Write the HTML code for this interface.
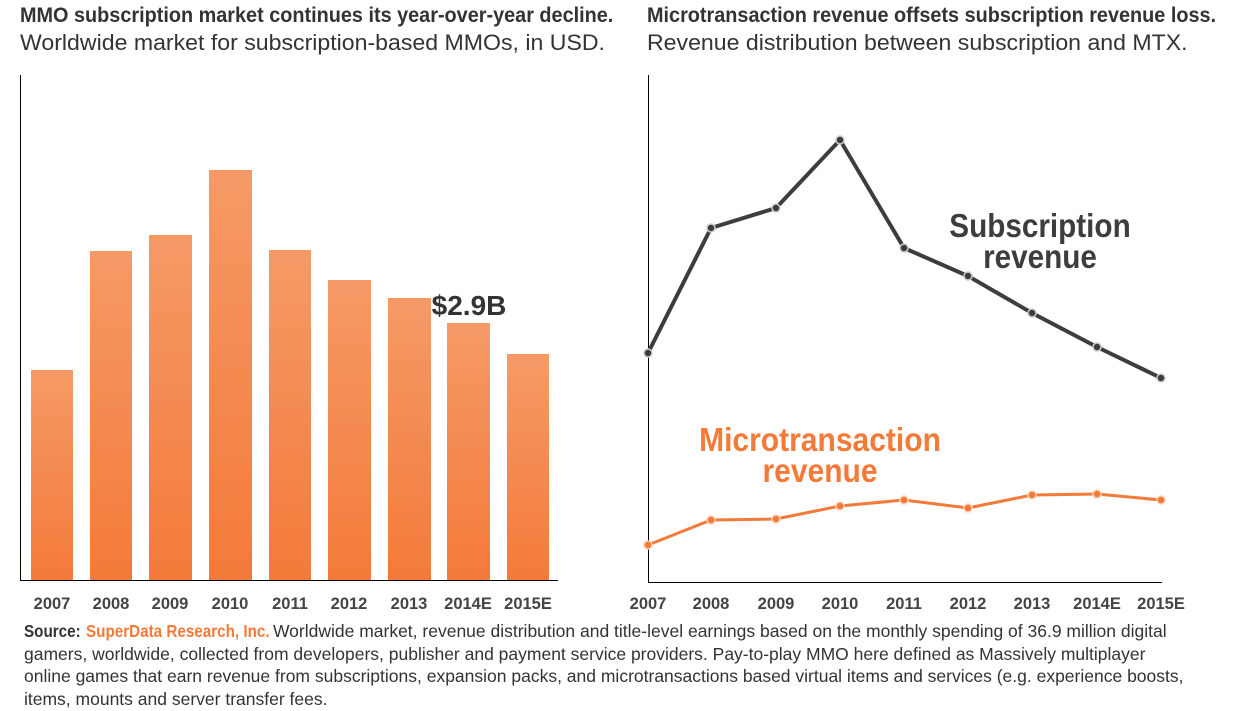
<!DOCTYPE html>
<html><head><style>
body{margin:0;background:#fff;width:1233px;height:710px;overflow:hidden;font-family:"Liberation Sans",sans-serif;}
.t{position:absolute;white-space:nowrap;}
</style></head><body>
<div class="t" style="left:20px;top:4px;font-size:21px;font-weight:bold;color:#333;transform:scaleX(0.945);transform-origin:left">MMO subscription market continues its year-over-year decline.</div>
<div class="t" style="left:20px;top:30px;font-size:22px;color:#333;transform:scaleX(1.05);transform-origin:left">Worldwide market for subscription-based MMOs, in USD.</div>
<div class="t" style="left:647px;top:4px;font-size:21px;font-weight:bold;color:#333;transform:scaleX(0.945);transform-origin:left">Microtransaction revenue offsets subscription revenue loss.</div>
<div class="t" style="left:647px;top:30px;font-size:22px;color:#333;transform:scaleX(1.05);transform-origin:left">Revenue distribution between subscription and MTX.</div>
<svg width="1233" height="710" style="position:absolute;left:0;top:0">
<defs><linearGradient id="g" x1="0" y1="0" x2="0" y2="1"><stop offset="0" stop-color="#f59a67"/><stop offset="1" stop-color="#f47a39"/></linearGradient></defs>
<g fill="url(#g)">
<rect x="31" y="370" width="42" height="210"/>
<rect x="90" y="251" width="42" height="329"/>
<rect x="149" y="235" width="43" height="345"/>
<rect x="209" y="170" width="43" height="410"/>
<rect x="269" y="250" width="42" height="330"/>
<rect x="328" y="280" width="43" height="300"/>
<rect x="388" y="298" width="43" height="282"/>
<rect x="447" y="323" width="43" height="257"/>
<rect x="507" y="354" width="42" height="226"/>
</g>
<path d="M20.5 75V580.5H558" stroke="#000" stroke-width="1" fill="none"/>
<path d="M648.5 75V582.5H1162" stroke="#000" stroke-width="1" fill="none"/>
<g font-family="Liberation Sans" font-weight="bold" font-size="16.5" fill="#444" text-anchor="middle">
<text x="52" y="609">2007</text><text x="111" y="609">2008</text><text x="170" y="609">2009</text><text x="230" y="609">2010</text><text x="290" y="609">2011</text><text x="349" y="609">2012</text><text x="409" y="609">2013</text><text x="468" y="609">2014E</text><text x="528" y="609">2015E</text>
<text x="648" y="609">2007</text><text x="711" y="609">2008</text><text x="776" y="609">2009</text><text x="840" y="609">2010</text><text x="904" y="609">2011</text><text x="968" y="609">2012</text><text x="1032" y="609">2013</text><text x="1097" y="609">2014E</text><text x="1161" y="609">2015E</text>
</g>
<text x="469" y="315" font-family="Liberation Sans" font-weight="bold" font-size="28" fill="#333" text-anchor="middle">$2.9B</text>
<polyline points="648,353 711,228 776,208 840,140 904,248 968,276 1032,313 1097,347 1161,378" fill="none" stroke="#3d3d3d" stroke-width="4"/>
<polyline points="648,545 711,520 776,519 840,506 904,500 968,508 1032,495 1097,494 1161,500" fill="none" stroke="#f47a39" stroke-width="3"/>
<g fill="#3d3d3d" stroke="#ccc" stroke-width="1.5">
<circle cx="648" cy="353" r="4"/><circle cx="711" cy="228" r="4"/><circle cx="776" cy="208" r="4"/><circle cx="840" cy="140" r="4"/><circle cx="904" cy="248" r="4"/><circle cx="968" cy="276" r="4"/><circle cx="1032" cy="313" r="4"/><circle cx="1097" cy="347" r="4"/><circle cx="1161" cy="378" r="4"/>
</g>
<g fill="#f47a39" stroke="#fbd0b5" stroke-width="1.5">
<circle cx="648" cy="545" r="4"/><circle cx="711" cy="520" r="4"/><circle cx="776" cy="519" r="4"/><circle cx="840" cy="506" r="4"/><circle cx="904" cy="500" r="4"/><circle cx="968" cy="508" r="4"/><circle cx="1032" cy="495" r="4"/><circle cx="1097" cy="494" r="4"/><circle cx="1161" cy="500" r="4"/>
</g>
<g font-family="Liberation Sans" font-weight="bold" font-size="33" text-anchor="middle">
<g transform="translate(1040 0) scale(0.9 1)" fill="#3d3d3d"><text x="0" y="237">Subscription</text><text x="0" y="268">revenue</text></g>
<g transform="translate(820 0) scale(0.91 1)" fill="#f47a39"><text x="0" y="451">Microtransaction</text><text x="0" y="482">revenue</text></g>
</g>
</svg>
<div class="t" style="left:24px;top:620px;font-size:17.5px;line-height:22.7px;color:#333">
<b style="display:inline-block;transform:scaleX(0.87);transform-origin:left;margin-right:-8px">Source:</b> <b style="color:#f47a39;display:inline-block;transform:scaleX(0.87);transform-origin:left;margin-right:-29px">SuperData Research, Inc.</b> Worldwide market, revenue distribution and title-level earnings based on the monthly spending of 36.9 million digital<br>gamers, worldwide, collected from developers, publisher and payment service providers. Pay-to-play MMO here defined as Massively multiplayer<br>online games that earn revenue from subscriptions, expansion packs, and microtransactions based virtual items and services (e.g. experience boosts,<br>items, mounts and server transfer fees.</div>
</body></html>
